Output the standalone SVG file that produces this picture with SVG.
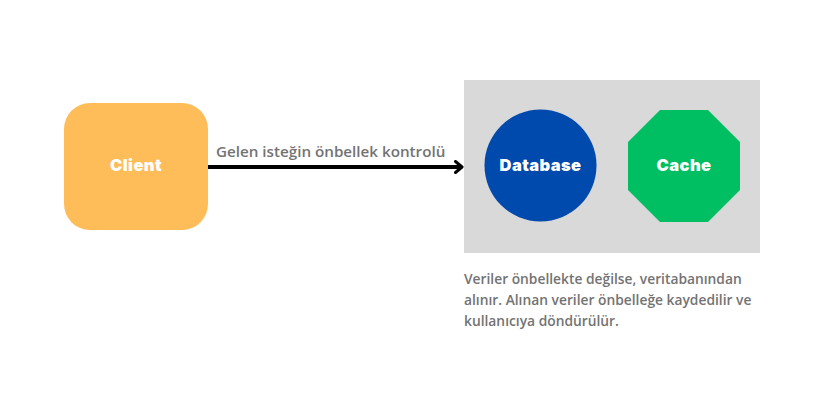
<svg xmlns="http://www.w3.org/2000/svg" width="823" height="412" viewBox="0 0 823 412">
<style>
.node-label{font-family:Inter,"Liberation Sans",sans-serif;font-weight:900;font-size:16.5px;letter-spacing:0.4px;fill:#ffffff;text-anchor:middle;dominant-baseline:central}
.gray{font-family:"Open Sans","Liberation Sans",sans-serif;font-weight:600;fill:#737373}
</style>
<defs>
<marker id="arr" viewBox="0 0 14 14" refX="10.5" refY="7" markerWidth="14" markerHeight="14" markerUnits="userSpaceOnUse" orient="auto">
<path d="M4,1.5 L10.5,7 L4,12.5" fill="none" stroke="#000" stroke-width="3" stroke-linecap="round" stroke-linejoin="round"/>
</marker>
</defs>
<rect width="823" height="412" fill="#ffffff"/>
<g id="container">
<rect x="464" y="80" width="296" height="173" fill="#d9d9d9"/>
</g>
<g id="connectors">
<line x1="208" y1="167" x2="462" y2="167" stroke="#000" stroke-width="4" marker-end="url(#arr)"/>
<text class="gray" x="216" y="157" font-size="15.2">Gelen isteğin önbellek kontrolü</text>
</g>
<g id="client">
<rect x="64" y="103" width="144" height="127" rx="26" fill="#ffbd59"/>
<text class="node-label" x="136" y="165">Client</text>
</g>
<g id="database">
<circle cx="540.5" cy="165.5" r="56" fill="#004aad"/>
<text class="node-label" x="540.5" y="165">Database</text>
</g>
<g id="cache">
<polygon points="660,110 708,110 740,142 740,190 708,222 660,222 628,190 628,142" fill="#00bf63"/>
<text class="node-label" x="684" y="165">Cache</text>
</g>
<g id="note">
<text class="gray" font-size="13.8"><tspan x="464" y="284">Veriler önbellekte değilse, veritabanından</tspan><tspan x="464" y="305">alınır. Alınan veriler önbelleğe kaydedilir ve</tspan><tspan x="464" y="326">kullanıcıya döndürülür.</tspan></text>
</g>
</svg>
